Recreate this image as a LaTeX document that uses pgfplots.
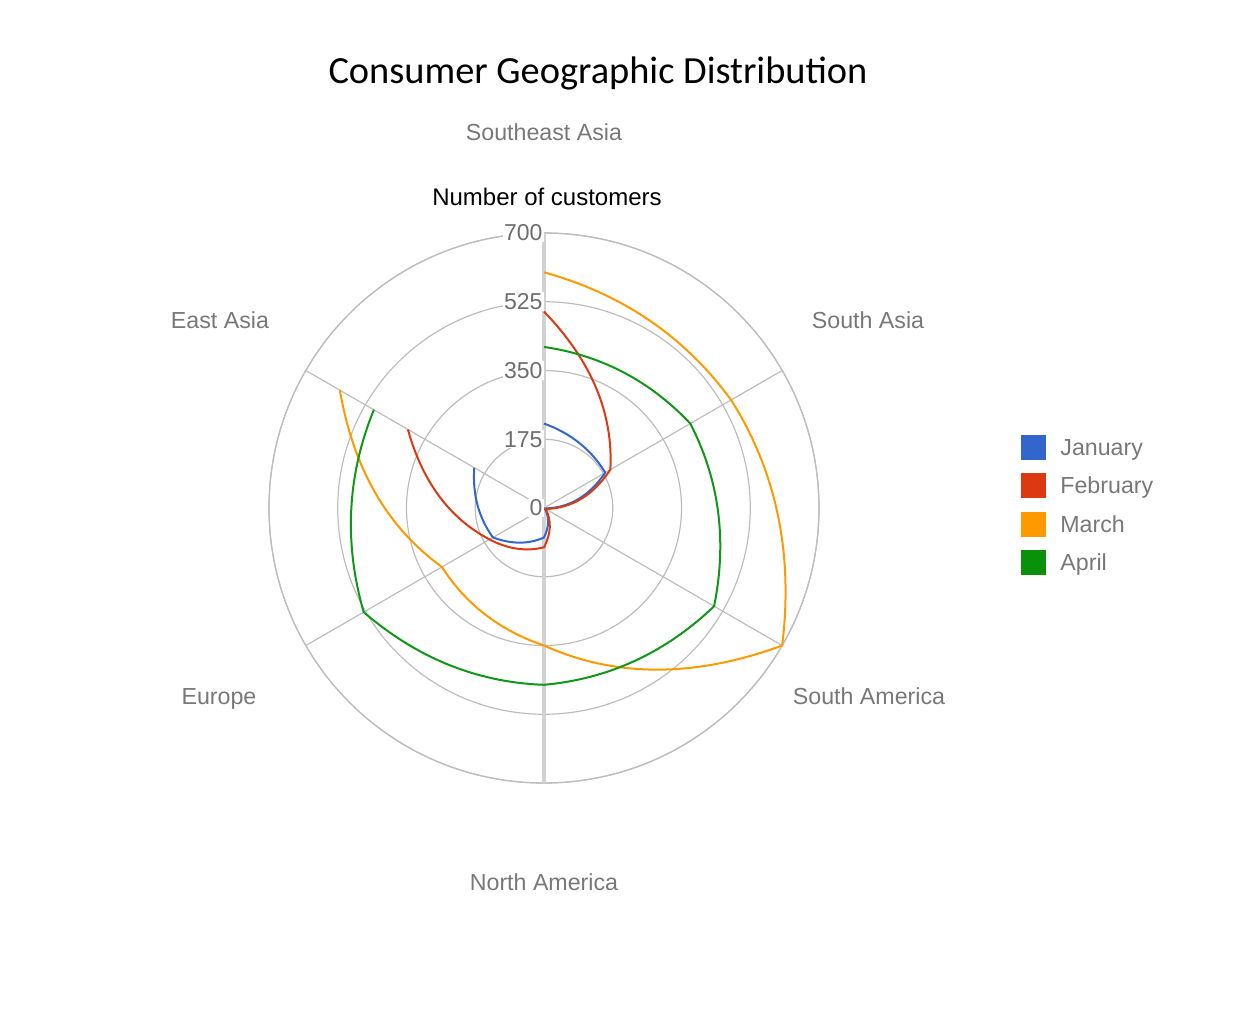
\documentclass[border=0pt]{standalone}
\usepackage{pgfplots}
\pgfplotsset{compat=1.18}
\usepgfplotslibrary{polar}
\usepackage{fontspec}
\setmainfont{Liberation Sans}
\newfontfamily\titlefont{Carlito}
\definecolor{cJan}{HTML}{3366CC}
\definecolor{cFeb}{HTML}{DC3912}
\definecolor{cMar}{HTML}{FF9900}
\definecolor{cApr}{HTML}{109618}
\definecolor{lgJan}{HTML}{3366CC}
\definecolor{lgFeb}{HTML}{DC3912}
\definecolor{lgMar}{HTML}{FF9900}
\definecolor{lgApr}{HTML}{0A910A}
\definecolor{gridc}{HTML}{BDBDBD}
\definecolor{vaxis}{HTML}{D2D2D2}
\definecolor{labc}{HTML}{787878}
\definecolor{tickc}{HTML}{6E6E6E}
\tikzset{ticklab/.style={anchor=east, fill=white, inner sep=0.6bp, text=tickc, font=\fontsize{11.5bp}{13bp}\selectfont}}
% plot handler: joins consecutive points by a quadratic curve whose control
% point lies on the middle spoke between them (radar "spline" style)
\makeatletter
\newdimen\sp@ox \newdimen\sp@oy \newdimen\sp@dx \newdimen\sp@dy
\newif\ifsp@first
\def\sp@f{1.04}
\pgfdeclareplothandler{\pgfplothandlerradarspline}{}{%
  start={\global\sp@firsttrue
    \pgfplotspointaxisxy{0}{0}%
    \global\sp@ox=\pgf@x \global\sp@oy=\pgf@y},
  point macro=\sp@point,
  jump={\global\sp@firsttrue},
  end={}%
}
\def\sp@point{%
  \sp@dx=\pgf@x \advance\sp@dx by -\sp@ox
  \sp@dy=\pgf@y \advance\sp@dy by -\sp@oy
  \pgfmathveclen{\sp@dx}{\sp@dy}\xdef\sp@r{\pgfmathresult}%
  \pgfmathatantwo{\sp@dy}{\sp@dx}\xdef\sp@t{\pgfmathresult}%
  \ifsp@first
    \pgfpathmoveto{\pgfpointadd{\pgfqpoint{\sp@ox}{\sp@oy}}{\pgfqpoint{\sp@dx}{\sp@dy}}}%
    \global\sp@firstfalse
  \else
    \pgfmathsetmacro\sp@dt{\sp@t-\sp@pt}%
    \ifdim\sp@dt pt>180pt \pgfmathsetmacro\sp@dt{\sp@dt-360}\fi
    \ifdim\sp@dt pt<-180pt \pgfmathsetmacro\sp@dt{\sp@dt+360}\fi
    \pgfmathsetmacro\sp@tm{\sp@pt+\sp@dt/2}%
    \pgfmathsetmacro\sp@k{\sp@f*(\sp@r+\sp@pr)/2}%
    \pgfpathquadraticcurveto
      {\pgfpointadd{\pgfqpoint{\sp@ox}{\sp@oy}}{\pgfpointpolar{\sp@tm}{\sp@k pt}}}%
      {\pgfpointadd{\pgfqpoint{\sp@ox}{\sp@oy}}{\pgfqpoint{\sp@dx}{\sp@dy}}}%
  \fi
  \global\let\sp@pt\sp@t
  \global\let\sp@pr\sp@r
}
\tikzset{radar spline/.code={\def\tikz@plot@handler{\pgfplothandlerradarspline}}}
\makeatother
\begin{document}
\begin{tikzpicture}
\begin{polaraxis}[
  scale only axis,
  width=275bp, height=275bp,
  ymin=0, ymax=700,
  ytick={175,350,525,700},
  xtick={30,90,150,210,270,330},
  xticklabels={}, yticklabels={},
  major tick length=0pt,
  grid=major,
  major grid style={gridc, line width=0.6bp},
  separate axis lines,
  x axis line style={gridc, line width=0.6bp},
  y axis line style={draw=none},
  clip=false,
]
\coordinate (O) at (axis cs:0,0);
\draw[vaxis, line width=1.6bp] (axis cs:90,700) -- (axis cs:270,700);
% order: Southeast Asia (90), South Asia (30), South America (-30), North America (-90), Europe (-150), East Asia (-210)
\addplot[cJan, line width=1bp, line join=round, radar spline] coordinates {(90,215) (30,180) (-30,2) (-90,75) (-150,150) (-210,205)};
\addplot[cFeb, line width=1bp, line join=round, radar spline] coordinates {(90,500) (30,195) (-30,5) (-90,100) (-150,160) (-210,400)};
\addplot[cMar, line width=1bp, line join=round, radar spline] coordinates {(90,600) (30,550) (-30,700) (-90,350) (-150,300) (-210,600)};
\addplot[cApr, line width=1bp, line join=round, radar spline] coordinates {(90,410) (30,430) (-30,500) (-90,450) (-150,530) (-210,500)};
\node[ticklab] at (axis cs:90,0) {0};
\node[ticklab] at (axis cs:90,175) {175};
\node[ticklab] at (axis cs:90,350) {350};
\node[ticklab] at (axis cs:90,525) {525};
\node[ticklab] at (axis cs:90,700) {700};
\end{polaraxis}
\begin{scope}[shift={(O)}, x=0.5bp, y=-0.5bp]
  \node[font=\titlefont\fontsize{19.2bp}{22bp}\selectfont, anchor=base] at (54,-424) {Consumer Geographic Distribution};
  \node[font=\fontsize{12bp}{14bp}\selectfont] at (3,-311) {Number of customers};
  \begin{scope}[every node/.style={text=labc, font=\fontsize{11.6bp}{13bp}\selectfont}]
    \node at (0,-376) {Southeast Asia};
    \node at (324,-188) {South Asia};
    \node at (325,188) {South America};
    \node at (0,374) {North America};
    \node at (-325,191) {Europe};
    \node at (-324,-188) {East Asia};
    % legend
    \fill[lgJan] (477,-73.5) rectangle (502,-48.5);
    \fill[lgFeb] (477,-35.5) rectangle (502,-10.5);
    \fill[lgMar] (477,3.5) rectangle (502,28.5);
    \fill[lgApr] (477,41.5) rectangle (502,66.5);
    \node[anchor=base west, inner sep=0pt] at (516,-52.7) {January};
    \node[anchor=base west, inner sep=0pt] at (516,-14.7) {February};
    \node[anchor=base west, inner sep=0pt] at (516,24.3) {March};
    \node[anchor=base west, inner sep=0pt] at (516,62.3) {April};
  \end{scope}
  \pgfresetboundingbox
  \path[use as bounding box] (-544,-508) rectangle (714,500);
\end{scope}
\end{tikzpicture}
\end{document}
